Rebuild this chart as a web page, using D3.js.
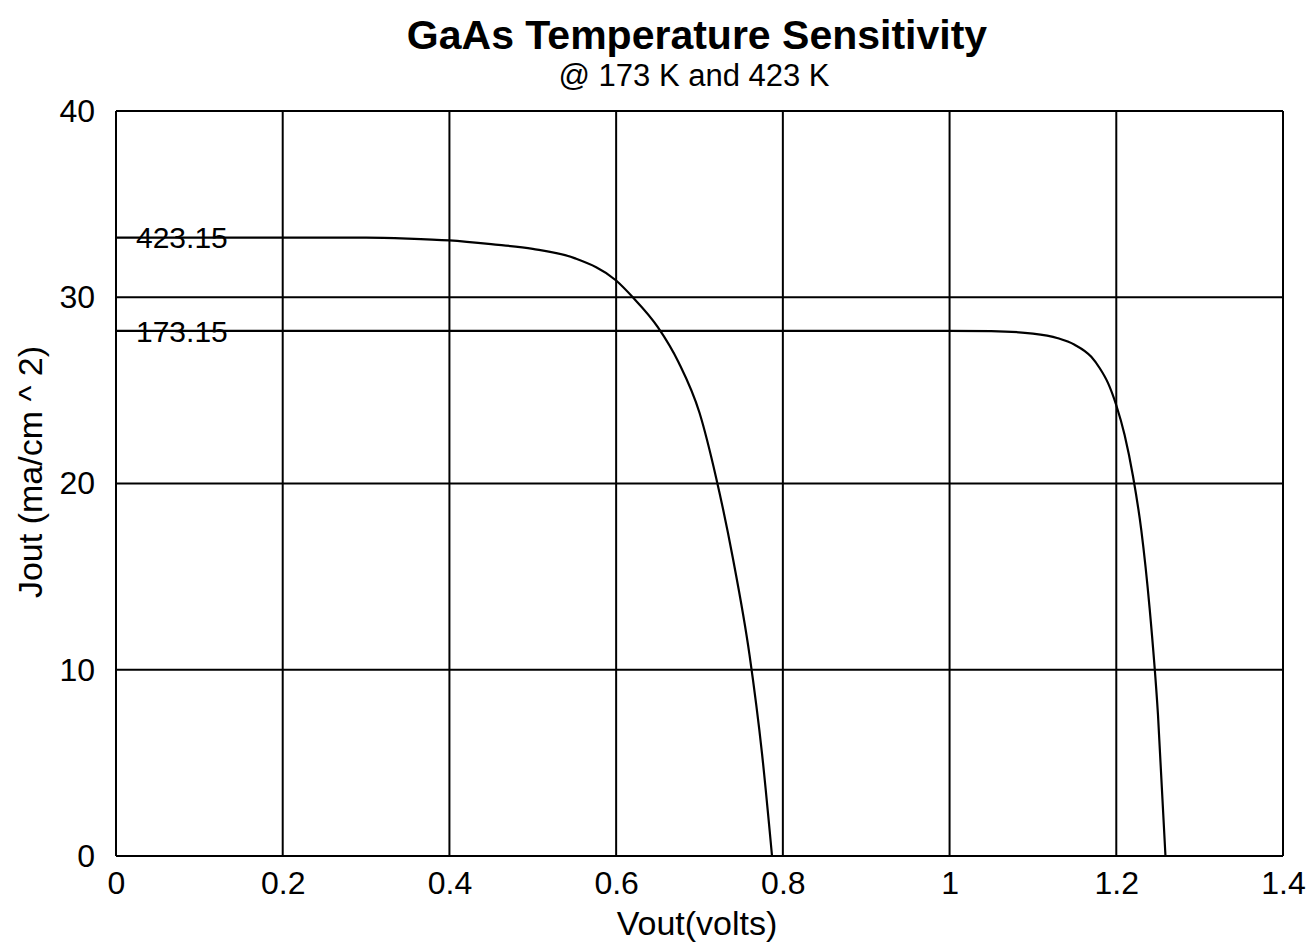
<!DOCTYPE html>
<html lang="en">
<head>
    <meta charset="UTF-8">
    <title>GaAs Temperature Sensitivity</title>
    <script src="https://d3js.org/d3.v7.min.js"></script>
    <style>
        body {
            margin: 0;
            background: #fff;
            font-family: "Liberation Sans", Arial, sans-serif;
        }
        .grid line {
            stroke: #000;
            stroke-width: 2;
        }
    </style>
</head>
<body>
<div id="chart"></div>

<script>
    // Data: voltage (V) vs current density (mA/cm^2)
    const xTicks = [0, 0.2, 0.4, 0.6, 0.8, 1, 1.2, 1.4];
    const yTicks = [0, 10, 20, 30, 40];

    const v423 = [0, 0.1, 0.2, 0.3, 0.35, 0.4, 0.45, 0.5, 0.55, 0.6, 0.62, 0.65, 0.675, 0.7, 0.72, 0.74, 0.76, 0.775, 0.787];
    const j423 = [33.2, 33.2, 33.2, 33.2, 33.15, 33.05, 32.85, 32.6, 32.1, 30.9, 30.0, 28.4, 26.5, 23.8, 20.3, 16.0, 10.8, 5.5, 0];

    const v173 = [0, 0.2, 0.4, 0.6, 0.8, 1.0, 1.05, 1.1, 1.13, 1.15, 1.17, 1.18, 1.19, 1.2, 1.21, 1.22, 1.23, 1.24, 1.25, 1.259];
    const j173 = [28.2, 28.2, 28.2, 28.2, 28.2, 28.2, 28.18, 28.05, 27.8, 27.45, 26.8, 26.2, 25.4, 24.2, 22.6, 20.4, 17.5, 13.3, 7.6, 0];

    const seriesNames = ["423.15", "173.15"];

    const W = 1314, H = 942;
    const margin = {top: 111, right: 31, bottom: 86, left: 116},
        width = W - margin.left - margin.right,
        height = H - margin.top - margin.bottom;

    const root = d3.select("#chart")
        .append("svg")
        .attr("width", W)
        .attr("height", H);

    const svg = root.append("g")
        .attr("transform", `translate(${margin.left},${margin.top})`);

    const x = d3.scaleLinear().domain([0, 1.4]).range([0, width]);
    const y = d3.scaleLinear().domain([0, 40]).range([height, 0]);

    // grid lines (also form the frame)
    const grid = svg.append("g").attr("class", "grid");
    grid.selectAll(".vx")
        .data(xTicks)
        .enter()
        .append("line")
        .attr("x1", d => x(d)).attr("x2", d => x(d))
        .attr("y1", 0).attr("y2", height);
    grid.selectAll(".hy")
        .data(yTicks)
        .enter()
        .append("line")
        .attr("x1", 0).attr("x2", width)
        .attr("y1", d => y(d)).attr("y2", d => y(d));

    // axes (labels only)
    const xAxis = svg.append("g")
        .attr("transform", `translate(0,${height})`)
        .call(d3.axisBottom(x).tickValues(xTicks).tickFormat(d3.format("")).tickSize(0).tickPadding(15));
    xAxis.select(".domain").remove();
    xAxis.selectAll("text")
        .style("font-family", "Liberation Sans, Arial, sans-serif")
        .style("font-size", "32px")
        .attr("fill", "#000");

    const yAxis = svg.append("g")
        .call(d3.axisLeft(y).tickValues(yTicks).tickFormat(d3.format("d")).tickSize(0).tickPadding(21));
    yAxis.select(".domain").remove();
    yAxis.selectAll("text")
        .style("font-family", "Liberation Sans, Arial, sans-serif")
        .style("font-size", "32px")
        .attr("fill", "#000");

    // curves
    const line = d3.line()
        .x(d => x(d[0]))
        .y(d => y(d[1]))
        .curve(d3.curveMonotoneX);

    const curves = [
        {name: seriesNames[0], pts: d3.zip(v423, j423)},
        {name: seriesNames[1], pts: d3.zip(v173, j173)}
    ];

    svg.selectAll(".curve")
        .data(curves)
        .enter()
        .append("path")
        .attr("class", "curve")
        .attr("d", d => line(d.pts))
        .attr("fill", "none")
        .attr("stroke", "#000")
        .attr("stroke-width", 2.2);

    // series labels sitting on the flat part of each curve
    svg.selectAll(".curve-label")
        .data(curves)
        .enter()
        .append("text")
        .attr("class", "curve-label")
        .attr("x", 20)
        .attr("y", d => y(d.pts[0][1]))
        .attr("dy", "0.36em")
        .style("font-size", "30px")
        .text(d => d.name);

    // titles
    root.append("text")
        .attr("x", 697).attr("y", 49)
        .attr("text-anchor", "middle")
        .style("font-size", "41px")
        .style("font-weight", "bold")
        .text("GaAs Temperature Sensitivity");

    root.append("text")
        .attr("x", 694).attr("y", 86)
        .attr("text-anchor", "middle")
        .style("font-size", "31px")
        .text("@ 173 K and 423 K");

    root.append("text")
        .attr("x", 697).attr("y", 935)
        .attr("text-anchor", "middle")
        .style("font-size", "34px")
        .text("Vout(volts)");

    root.append("text")
        .attr("transform", "translate(42,472) rotate(-90)")
        .attr("text-anchor", "middle")
        .style("font-size", "34px")
        .text("Jout (ma/cm ^ 2)");
</script>

</body>
</html>
